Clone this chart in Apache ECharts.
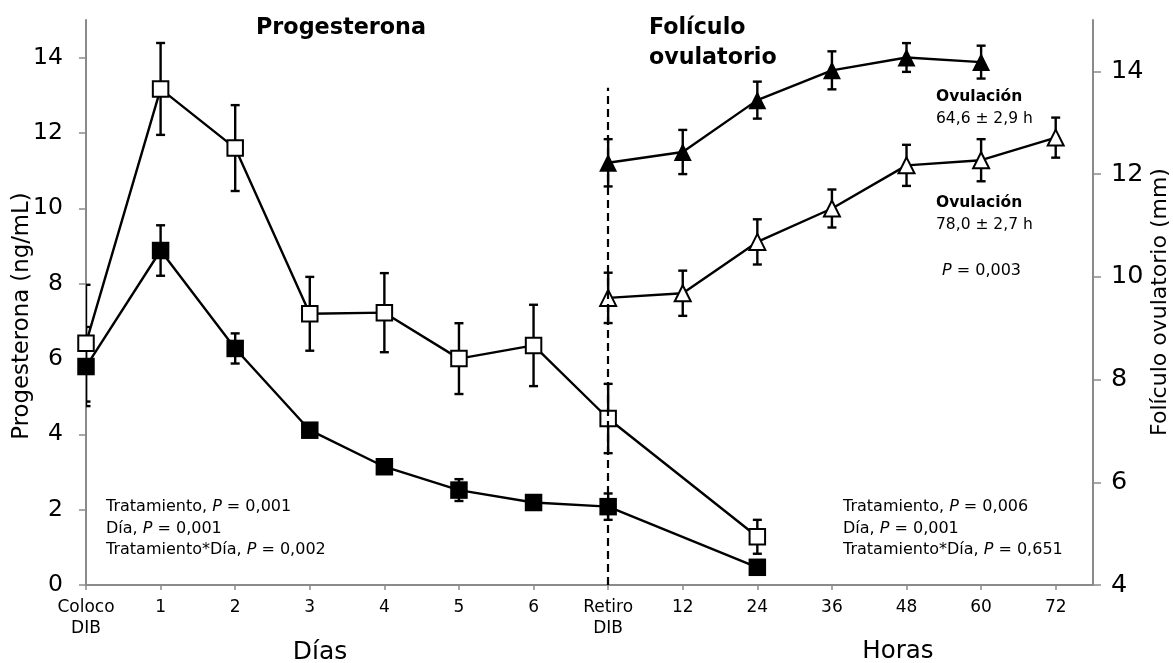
<!DOCTYPE html>
<html>
<head>
<meta charset="utf-8">
<script src="https://cdn.jsdelivr.net/npm/echarts@6/dist/echarts.min.js"></script>
<style>
  html, body { margin: 0; padding: 0; background: #fff; }
  #chart { width: 1173px; height: 663px; }
</style>
</head>
<body>
<div id="chart"></div>
<script>
// x positions: days of the DIB protocol, then hours after removal
const categories = ['Coloco\nDIB', '1', '2', '3', '4', '5', '6', 'Retiro\nDIB', '12', '24', '36', '48', '60', '72'];
const leftTicks = [0, 2, 4, 6, 8, 10, 12, 14];
const rightTicks = [4, 6, 8, 10, 12, 14];

// Progesterona (ng/mL), mean and SE; null = not sampled
const progOpen     = [6.42, 13.17, 11.60, 7.20, 7.23, 6.01, 6.36, 4.42, null, 1.28, null, null, null, null];
const progOpenErr  = [1.55, 1.22, 1.14, 0.98, 1.05, 0.94, 1.08, 0.92, null, 0.45, null, null, null, null];
const progSolid    = [5.80, 8.88, 6.28, 4.11, 3.14, 2.52, 2.19, 2.08, null, 0.47, null, null, null, null];
const progSolidErr = [1.05, 0.67, 0.40, 0.12, 0.12, 0.29, 0.12, 0.35, null, 0.12, null, null, null, null];

// Folículo ovulatorio (mm), mean and SE
const folSolid     = [null, null, null, null, null, null, null, 12.22, 12.43, 13.44, 14.02, 14.27, 14.18, null];
const folSolidErr  = [null, null, null, null, null, null, null, 0.46, 0.43, 0.36, 0.37, 0.28, 0.32, null];
const folOpen      = [null, null, null, null, null, null, null, 9.59, 9.68, 10.68, 11.33, 12.17, 12.27, 12.71];
const folOpenErr   = [null, null, null, null, null, null, null, 0.49, 0.44, 0.44, 0.37, 0.40, 0.41, 0.39];

const FONT = 'DejaVu Sans';
const AXIS_GREY = '#8a8a8a';
const LINE_W = 2.4;

function points(values) {
  const out = [];
  values.forEach((v, i) => { if (v !== null) out.push([i, v]); });
  return out;
}

function errorData(values, errs) {
  const out = [];
  values.forEach((v, i) => { if (v !== null) out.push([i, v - errs[i], v + errs[i]]); });
  return out;
}

// vertical error bar with caps, caps trimmed at the plot's left edge
function errorSeries(values, errs, yAxisIndex) {
  return {
    type: 'custom',
    yAxisIndex: yAxisIndex,
    clip: true,
    silent: true,
    z: 1,
    data: errorData(values, errs),
    renderItem: function (params, api) {
      const lo = api.coord([api.value(0), api.value(1)]);
      const hi = api.coord([api.value(0), api.value(2)]);
      const left = params.coordSys.x;
      const half = 4.5;
      const x1 = Math.max(lo[0] - half, left);
      const x2 = lo[0] + half;
      const style = { stroke: '#000', lineWidth: LINE_W };
      return {
        type: 'group',
        children: [
          { type: 'line', shape: { x1: lo[0], y1: lo[1], x2: hi[0], y2: hi[1] }, style: style },
          { type: 'line', shape: { x1: x1, y1: lo[1], x2: x2, y2: lo[1] }, style: style },
          { type: 'line', shape: { x1: x1, y1: hi[1], x2: x2, y2: hi[1] }, style: style }
        ]
      };
    }
  };
}

function lineSeries(values, yAxisIndex, symbol, size, filled) {
  return {
    type: 'line',
    yAxisIndex: yAxisIndex,
    data: points(values),
    symbol: symbol,
    symbolSize: size,
    showAllSymbol: true,
    z: 3,
    lineStyle: { color: '#000', width: LINE_W },
    itemStyle: filled
      ? { color: '#000', borderColor: '#000', borderWidth: 0 }
      : { color: '#fff', borderColor: '#000', borderWidth: 2 },
    emphasis: { disabled: true }
  };
}

const chart = echarts.init(document.getElementById('chart'), null, { renderer: 'canvas' });

const solidProg = lineSeries(progSolid, 0, 'rect', 17.5, true);
solidProg.markLine = {
  silent: true,
  symbol: ['none', 'none'],
  label: { show: false },
  lineStyle: { color: '#000', type: [8, 5], width: 2.2 },
  data: [[{ coord: [7, 0] }, { coord: [7, 13.2] }]]
};

function txt(x, y, text, opts) {
  return {
    type: 'text', x: x, y: y, z: 10, silent: true,
    style: Object.assign({
      text: text, fill: '#000', fontFamily: FONT, fontSize: 16,
      align: 'left', verticalAlign: 'middle'
    }, opts || {})
  };
}

function pText(x, y, label, value) {
  return {
    type: 'text', x: x, y: y, z: 10, silent: true,
    style: {
      text: label + '{i|P}{n| = ' + value + '}',
      fill: '#000', fontFamily: FONT, fontSize: 16,
      align: 'left', verticalAlign: 'middle',
      rich: {
        i: { fontStyle: 'italic', fontFamily: FONT, fontSize: 16, fill: '#000' },
        n: { fontFamily: FONT, fontSize: 16, fill: '#000' }
      }
    }
  };
}

const option = {
  animation: false,
  backgroundColor: '#fff',
  grid: { left: 86, right: 80, top: 20, bottom: 78, containLabel: false },
  xAxis: {
    type: 'value',
    min: 0,
    max: 13.5,
    splitLine: { show: false },
    axisLine: { show: true, lineStyle: { color: AXIS_GREY, width: 2 } },
    axisTick: { show: true, customValues: categories.map((_, i) => i), length: 5, lineStyle: { color: AXIS_GREY, width: 1.5 } },
    axisLabel: {
      customValues: categories.map((_, i) => i),
      formatter: v => categories[v] || '',
      color: '#000', fontFamily: FONT, fontSize: 17, margin: 12, lineHeight: 21
    }
  },
  yAxis: [
    {
      type: 'value', min: 0, max: 15, position: 'left',
      splitLine: { show: false },
      axisLine: { show: true, lineStyle: { color: AXIS_GREY, width: 2 } },
      axisTick: { show: true, customValues: leftTicks, length: 7, lineStyle: { color: AXIS_GREY, width: 1.5 } },
      axisLabel: { customValues: leftTicks, color: '#000', fontFamily: FONT, fontSize: 23.5, margin: 23 }
    },
    {
      type: 'value', min: 4, max: 15, position: 'right',
      splitLine: { show: false },
      axisLine: { show: true, lineStyle: { color: AXIS_GREY, width: 2 } },
      axisTick: { show: true, customValues: rightTicks, length: 8, lineStyle: { color: AXIS_GREY, width: 1.5 } },
      axisLabel: { customValues: rightTicks, color: '#000', fontFamily: FONT, fontSize: 25.5, margin: 18 }
    }
  ],
  series: [
    errorSeries(progOpen, progOpenErr, 0),
    errorSeries(progSolid, progSolidErr, 0),
    errorSeries(folSolid, folSolidErr, 1),
    errorSeries(folOpen, folOpenErr, 1),
    lineSeries(progOpen, 0, 'rect', 15.5, false),
    solidProg,
    lineSeries(folSolid, 1, 'triangle', 18, true),
    lineSeries(folOpen, 1, 'triangle', 16, false)
  ],
  graphic: [
    // panel titles
    txt(341, 28, 'Progesterona', { fontWeight: 'bold', fontSize: 22.3, align: 'center' }),
    txt(649, 28, 'Folículo', { fontWeight: 'bold', fontSize: 22.2 }),
    txt(649, 58, 'ovulatorio', { fontWeight: 'bold', fontSize: 22.2 }),
    // axis names
    {
      type: 'text', x: 22, y: 316, rotation: Math.PI / 2, silent: true,
      style: { text: 'Progesterona (ng/mL)', fill: '#000', fontFamily: FONT, fontSize: 22.8, align: 'center', verticalAlign: 'middle' }
    },
    {
      type: 'text', x: 1160, y: 302, rotation: Math.PI / 2, silent: true,
      style: { text: 'Folículo ovulatorio (mm)', fill: '#000', fontFamily: FONT, fontSize: 22, align: 'center', verticalAlign: 'middle' }
    },
    txt(320, 652, 'Días', { fontSize: 25, align: 'center' }),
    txt(898, 652, 'Horas', { fontSize: 24.5, align: 'center' }),
    // ovulation timing
    txt(936, 97, 'Ovulación', { fontWeight: 'bold', fontSize: 15.5 }),
    txt(936, 119, '64,6 ± 2,9 h', { fontSize: 15.5 }),
    txt(936, 203, 'Ovulación', { fontWeight: 'bold', fontSize: 15.5 }),
    txt(936, 225, '78,0 ± 2,7 h', { fontSize: 15.5 }),
    pText(942, 271, '', '0,003'),
    // statistics, progesterone
    pText(106, 507, 'Tratamiento, ', '0,001'),
    pText(106, 529, 'Día, ', '0,001'),
    pText(106, 550, 'Tratamiento*Día, ', '0,002'),
    // statistics, follicle
    pText(843, 507, 'Tratamiento, ', '0,006'),
    pText(843, 529, 'Día, ', '0,001'),
    pText(843, 550, 'Tratamiento*Día, ', '0,651')
  ]
};

chart.setOption(option);
</script>
</body>
</html>
